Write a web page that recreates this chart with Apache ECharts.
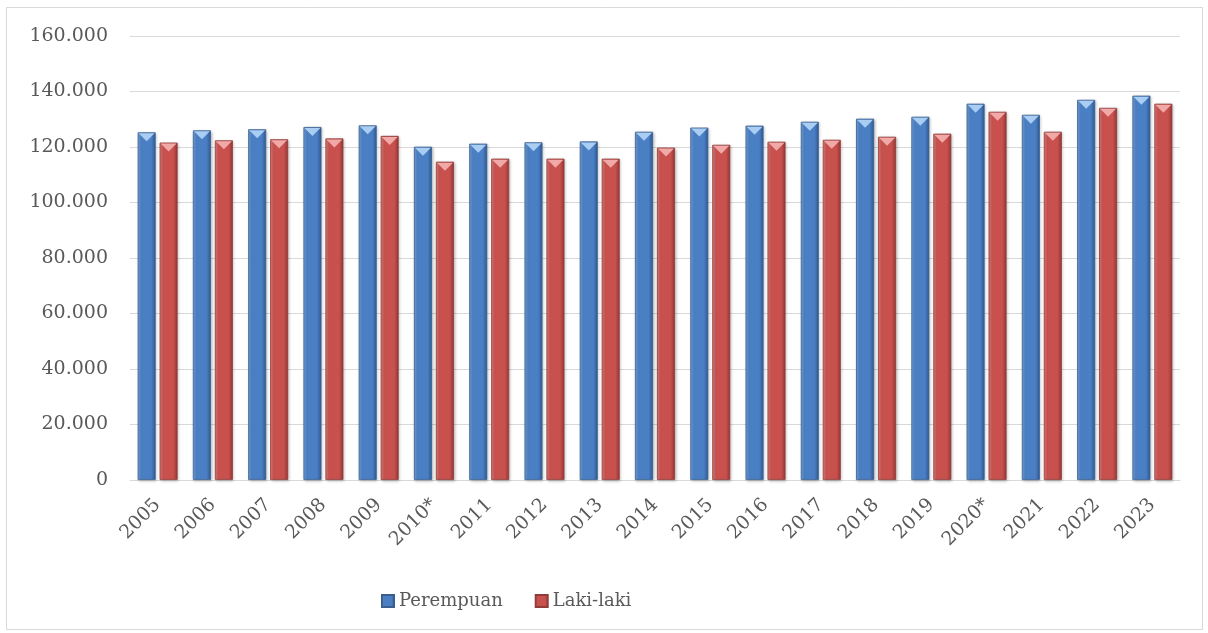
<!DOCTYPE html>
<html>
<head>
<meta charset="utf-8">
<script src="https://cdn.jsdelivr.net/npm/echarts@6/dist/echarts.min.js"></script>
<style>
  html, body { margin: 0; padding: 0; background: #fff; }
  #chart { width: 1208px; height: 633px; }
</style>
</head>
<body>
<div id="chart"></div>
<script>
// data (ribu jiwa)
var years = ['2005','2006','2007','2008','2009','2010*','2011','2012','2013','2014',
             '2015','2016','2017','2018','2019','2020*','2021','2022','2023'];
var perempuan = [125.3, 126.0, 126.4, 127.2, 127.8, 120.1, 121.2, 121.7, 122.0, 125.5,
                 127.0, 127.7, 129.1, 130.2, 130.9, 135.6, 131.6, 137.0, 138.5];
var lakiLaki = [121.6, 122.4, 122.8, 123.1, 124.0, 114.7, 115.8, 115.8, 115.8, 119.8,
                120.8, 121.9, 122.6, 123.7, 124.8, 132.7, 125.5, 134.1, 135.6];
var yTicks = [0, 20, 40, 60, 80, 100, 120, 140, 160];

var fontName = 'DejaVu Serif';
var textColor = '#595959';

// gradient horizontal untuk efek bevel
var gradH = function(light, mid, dark){
    return new echarts.graphic.LinearGradient(0, 0, 1, 0, [
        {offset: 0, color: light},
        {offset: 0.2, color: mid},
        {offset: 0.75, color: mid},
        {offset: 1, color: dark}
    ]);
};

var chart = echarts.init(document.getElementById('chart'));
var triangle = 'path://M0,0 L20,0 L10,8 Z';

chart.setOption({
    animation: false,
    graphic: [{
        type: 'rect',
        shape: {x: 6.5, y: 7.5, width: 1196, height: 622},
        style: {fill: 'none', stroke: '#d9d9d9', lineWidth: 1},
        silent: true
    }],
    grid: {left: 130, right: 28, top: 36, bottom: 153},
    legend: {
        data: ['Perempuan', 'Laki-laki'],
        top: 587,
        left: 376,
        icon: 'rect',
        itemWidth: 12,
        itemHeight: 12,
        itemGap: 32,
        textStyle: {fontFamily: fontName, fontSize: 18, color: textColor}
    },
    xAxis: {
        type: 'category',
        data: years,
        axisLine: {lineStyle: {color: '#d9d9d9', width: 1}},
        axisTick: {show: false},
        axisLabel: {
            rotate: 45,
            interval: 0,
            margin: 22,
            fontFamily: fontName,
            fontSize: 19,
            color: textColor
        }
    },
    yAxis: {
        type: 'value',
        min: 0,
        max: 160,
        interval: 20,
        axisLine: {show: false},
        axisTick: {show: false},
        splitLine: {lineStyle: {color: '#d9d9d9', width: 1}},
        axisLabel: {
            margin: 22,
            fontFamily: fontName,
            fontSize: 19,
            color: textColor,
            formatter: function(v){
                return v === 0 ? '0' : v.toFixed(3);
            }
        }
    },
    series: [
        {
            name: 'Perempuan',
            type: 'bar',
            data: perempuan,
            barWidth: 18,
            barGap: '22%',
            itemStyle: {
                color: gradH('#7aa6dc', '#4a7fc4', '#2f5a95'),
                borderColor: '#3a5f8f',
                borderWidth: 0.8,
                shadowColor: 'rgba(0,0,0,0.25)',
                shadowBlur: 3,
                shadowOffsetX: 1,
                shadowOffsetY: 1
            }
        },
        {
            name: 'Laki-laki',
            type: 'bar',
            data: lakiLaki,
            barWidth: 18,
            barGap: '22%',
            itemStyle: {
                color: gradH('#df8482', '#c8514e', '#983836'),
                borderColor: '#8f3c3a',
                borderWidth: 0.8,
                shadowColor: 'rgba(0,0,0,0.25)',
                shadowBlur: 3,
                shadowOffsetX: 1,
                shadowOffsetY: 1
            }
        },
        // segitiga terang di puncak batang
        {
            name: 'Perempuan',
            type: 'pictorialBar',
            data: perempuan,
            barWidth: 18,
            barGap: '22%',
            symbol: triangle,
            symbolSize: [16, 8],
            symbolPosition: 'end',
            symbolOffset: [0, 1],
            z: 5,
            itemStyle: {color: '#a9cdf3'}
        },
        {
            name: 'Laki-laki',
            type: 'pictorialBar',
            data: lakiLaki,
            barWidth: 18,
            barGap: '22%',
            symbol: triangle,
            symbolSize: [16, 8],
            symbolPosition: 'end',
            symbolOffset: [0, 1],
            z: 5,
            itemStyle: {color: '#f1a9a7'}
        }
    ]
});
</script>
</body>
</html>
